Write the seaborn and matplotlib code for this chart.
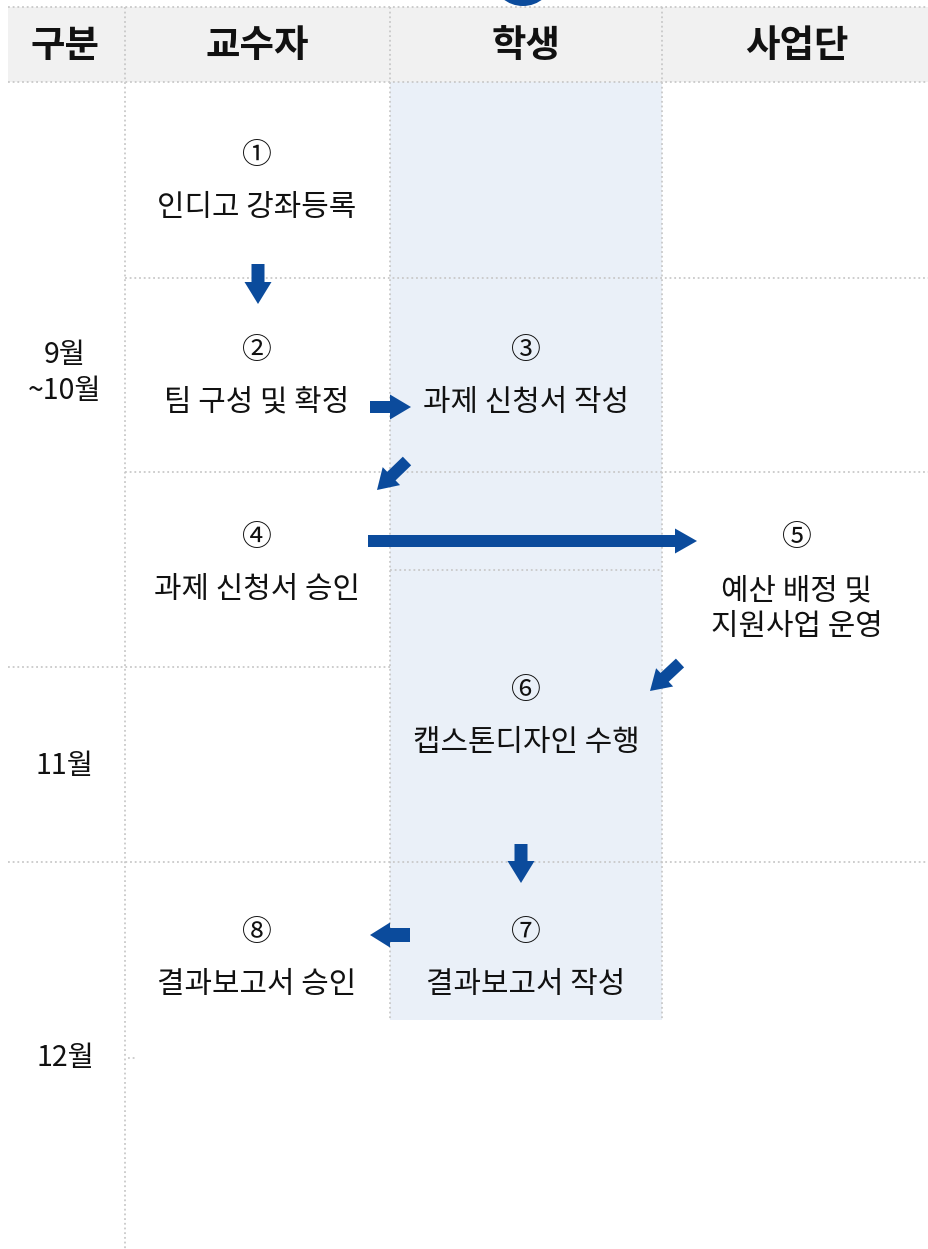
import matplotlib
matplotlib.use("Agg")
import matplotlib.pyplot as plt
import seaborn as sns
from matplotlib.patches import FancyArrow, Rectangle, Ellipse

sns.set_theme(style="white")
plt.rcParams['font.family'] = ['Noto Sans CJK KR', 'DejaVu Sans']

# ---- data ----
headers = ["구분", "교수자", "학생", "사업단"]
periods = ["9월\n~10월", "11월", "12월"]
step_nums = ["①", "②", "③", "④", "⑤", "⑥", "⑦", "⑧"]
step_labels = ["인디고 강좌등록", "팀 구성 및 확정", "과제 신청서 작성", "과제 신청서 승인",
               "예산 배정 및\n지원사업 운영", "캡스톤디자인 수행", "결과보고서 작성", "결과보고서 승인"]
step_cols = [1, 1, 2, 1, 3, 2, 2, 1]

# ---- layout (pixels) ----
W, H = 929, 1249
col_centers = [65, 257, 526, 797]
header_top, header_bot = 7, 82
step_y = [155, 350, 350, 537, 537, 690, 932, 932]
period_y = [373, 766, 1058]
blue = "#0b4b9c"
grid_c = "#c9c9c9"
dot = (0, (1, 1.6))

fig = plt.figure(figsize=(W / 100, H / 100), dpi=100)
ax = fig.add_axes([0, 0, 1, 1])
ax.set_xlim(0, W)
ax.set_ylim(H, 0)
ax.axis("off")

# backgrounds
ax.add_patch(Rectangle((8, header_top), W - 8, header_bot - header_top, color="#f1f1f1", lw=0, zorder=0))
ax.add_patch(Rectangle((390, header_bot), 662 - 390, 1020 - header_bot, color="#eaf0f8", lw=0, zorder=0))
ax.add_patch(Ellipse((523, -20), 58, 52, color=blue, lw=0, zorder=1))

# grid lines
def hline(y, x0, x1):
    ax.plot([x0, x1], [y, y], color=grid_c, lw=1.3, ls=dot, zorder=1)

def vline(x, y0, y1):
    ax.plot([x, x], [y0, y1], color=grid_c, lw=1.3, ls=dot, zorder=1)

hline(header_top, 8, W)
hline(header_bot, 8, W)
hline(278, 125, W)
hline(472, 125, W)
hline(570, 390, 662)
hline(667, 8, 390)
hline(862, 8, W)
hline(1058, 128, 137)
vline(125, header_top, H)
vline(390, header_top, 1020)
vline(662, header_top, 1020)

# headers
for h, x in zip(headers, col_centers):
    ax.text(x, 45, h, ha="center", va="center", fontsize=27, fontweight="bold", color="#111111")

# period labels
for p, y in zip(periods, period_y):
    ax.text(65, y, p, ha="center", va="center", fontsize=20.5, color="#111111", linespacing=1.3)

# steps
for n, lab, c, y in zip(step_nums, step_labels, step_cols, step_y):
    x = col_centers[c]
    ax.text(x, y, n, ha="center", va="center", fontsize=21.5, color="#111111")
    off = 72 if "\n" in lab else 52
    ax.text(x, y + off, lab, ha="center", va="center",
            fontsize=21.5, color="#111111", linespacing=1.2)

# arrows: (x0, y0, x1, y1, shaft, head_w, head_l)
arrows = [
    (258, 264, 258, 304, 13, 27, 22),
    (370, 407, 411, 407, 12, 25, 21),
    (407, 461, 377, 490, 12, 25, 20),
    (368, 541, 697, 541, 12, 25, 22),
    (680, 663, 650, 691, 12, 25, 20),
    (521, 844, 521, 883, 13, 27, 22),
    (410, 935, 370, 935, 14, 25, 20),
]
for x0, y0, x1, y1, sw, hw, hl in arrows:
    ax.add_patch(FancyArrow(x0, y0, x1 - x0, y1 - y0, width=sw, head_width=hw, head_length=hl,
                            length_includes_head=True, color=blue, lw=0, zorder=3))

fig.savefig("out.png", dpi=100)
